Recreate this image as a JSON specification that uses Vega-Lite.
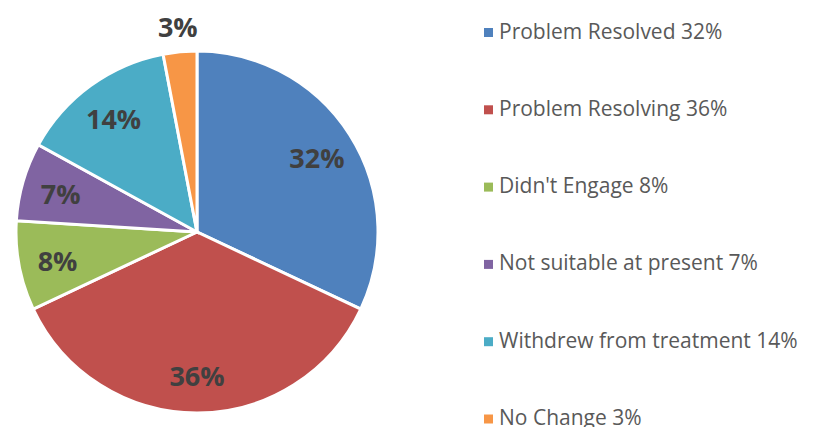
{
  "$schema": "https://vega.github.io/schema/vega-lite/v6.json",
  "width": 394,
  "height": 464,
  "autosize": {"type": "none"},
  "padding": {"left": 0, "top": 0, "right": 421, "bottom": -37},
  "background": "white",
  "view": {"stroke": null},
  "data": {
    "values": [
      {"category": "Problem Resolved 32%", "value": 32, "label": "32%", "order": 1},
      {"category": "Problem Resolving  36%", "value": 36, "label": "36%", "order": 2},
      {"category": "Didn't Engage 8%", "value": 8, "label": "8%", "order": 3},
      {"category": "Not suitable at present 7%", "value": 7, "label": "7%", "order": 4},
      {"category": "Withdrew from treatment 14%", "value": 14, "label": "14%", "order": 5},
      {"category": "No Change 3%", "value": 3, "label": "3%", "order": 6}
    ]
  },
  "encoding": {
    "theta": {"field": "value", "type": "quantitative", "stack": true},
    "order": {"field": "order", "type": "quantitative"}
  },
  "layer": [
    {
      "mark": {"type": "arc", "outerRadius": 181, "stroke": "white", "strokeWidth": 3},
      "encoding": {
        "color": {
          "field": "category",
          "type": "nominal",
          "scale": {
            "domain": ["Problem Resolved 32%", "Problem Resolving  36%", "Didn't Engage 8%", "Not suitable at present 7%", "Withdrew from treatment 14%", "No Change 3%"],
            "range": ["#4F81BD", "#C0504D", "#9BBB59", "#8064A2", "#4BACC6", "#F79646"]
          },
          "legend": {
            "title": null,
            "orient": "none",
            "legendX": 478,
            "legendY": 22,
            "padding": 0,
            "symbolType": "square",
            "symbolSize": 81,
            "symbolStrokeWidth": 0,
            "labelFont": "Open Sans",
            "labelFontSize": 21,
            "labelColor": "#595959",
            "labelOffset": 0,
            "labelLimit": 400,
            "rowPadding": 55.3
          }
        }
      }
    },
    {
      "mark": {"type": "text", "radius": 142, "dy": 4, "font": "Open Sans", "fontWeight": "bold", "fontSize": 27, "baseline": "middle", "align": "center"},
      "encoding": {
        "detail": {"field": "category", "type": "nominal"},
        "color": {"value": "#404040"},
        "text": {"condition": {"test": "datum.order < 6", "field": "label"}, "value": ""}
      }
    },
    {
      "mark": {"type": "text", "radius": 204, "font": "Open Sans", "fontWeight": "bold", "fontSize": 27, "baseline": "middle", "align": "center"},
      "encoding": {
        "detail": {"field": "category", "type": "nominal"},
        "color": {"value": "#404040"},
        "text": {"condition": {"test": "datum.order == 6", "field": "label"}, "value": ""}
      }
    }
  ]
}
